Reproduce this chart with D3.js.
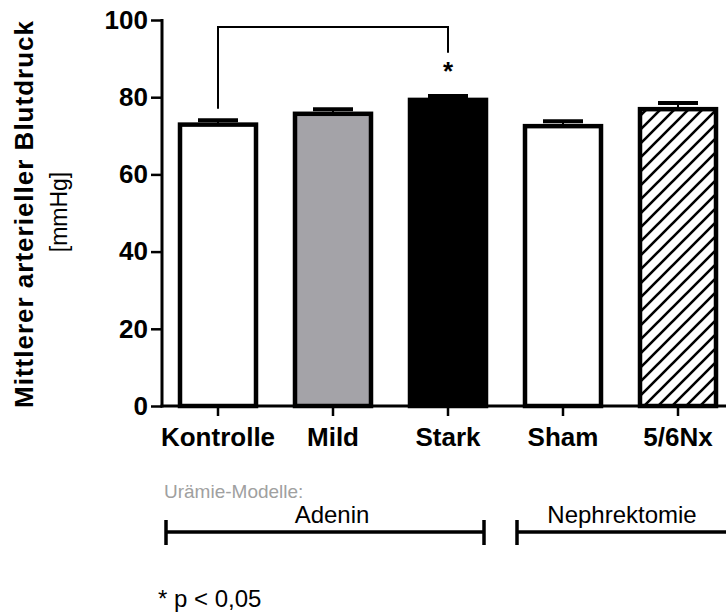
<!DOCTYPE html>
<html>
<head>
<meta charset="utf-8">
<script src="https://cdn.jsdelivr.net/npm/d3@7"></script>
<style>
  body { margin: 0; background: #fff; }
  svg { display: block; font-family: Arial, "Liberation Sans", sans-serif; }
</style>
</head>
<body>
<div id="root"></div>
<script>
// data
const categories = ["Kontrolle", "Mild", "Stark", "Sham", "5/6Nx"];
const means = [72.9, 75.7, 79.3, 72.5, 76.9];
const sems = [1.1, 1.2, 1.0, 1.3, 1.6];
const fills = ["#fff", "#a4a3a8", "#000", "#fff", "url(#hatch)"];
const yTicks = [0, 20, 40, 60, 80, 100];
const groups = [
    {label: "Adenin", from: 0, to: 2},
    {label: "Nephrektomie", from: 3, to: 4}
];

const WIDTH = 726;
const HEIGHT = 613;
const BAR_W = 76;

const svg = d3.select("#root")
    .append("svg")
    .attr("width", WIDTH)
    .attr("height", HEIGHT);

const defs = svg.append("defs");
const hatch = defs.append("pattern")
    .attr("id", "hatch")
    .attr("patternUnits", "userSpaceOnUse")
    .attr("width", 14)
    .attr("height", 14);
hatch.append("rect").attr("width", 14).attr("height", 14).attr("fill", "#fff");
hatch.append("path")
    .attr("d", "M0,14L14,0M-4,4L4,-4M10,18L18,10")
    .attr("stroke", "#000")
    .attr("stroke-width", 2.6);

const xScale = d3.scaleBand()
    .domain(categories)
    .range([160.5, 735.5]);

const yScale = d3.scaleLinear()
    .domain([0, 100])
    .range([406, 20]);

const cx = c => xScale(c) + xScale.bandwidth() / 2;

// bars
svg.selectAll(".bar")
    .data(categories)
    .enter()
    .append("rect")
    .attr("class", "bar")
    .attr("x", c => cx(c) - BAR_W / 2)
    .attr("y", (c, i) => yScale(means[i]))
    .attr("width", BAR_W)
    .attr("height", (c, i) => yScale(0) - yScale(means[i]))
    .attr("fill", (c, i) => fills[i])
    .attr("stroke", "#000")
    .attr("stroke-width", 4.5);

// error bars (upper only)
const err = svg.selectAll(".err")
    .data(categories)
    .enter()
    .append("g")
    .attr("class", "err");
err.append("line")
    .attr("x1", c => cx(c))
    .attr("x2", c => cx(c))
    .attr("y1", (c, i) => yScale(means[i]))
    .attr("y2", (c, i) => yScale(means[i] + sems[i]))
    .attr("stroke", "#000")
    .attr("stroke-width", 2);
err.append("line")
    .attr("x1", c => cx(c) - 20)
    .attr("x2", c => cx(c) + 20)
    .attr("y1", (c, i) => yScale(means[i] + sems[i]))
    .attr("y2", (c, i) => yScale(means[i] + sems[i]))
    .attr("stroke", "#000")
    .attr("stroke-width", 4);

// axes
const yAxis = d3.axisLeft(yScale)
    .tickValues(yTicks)
    .tickSize(11)
    .tickPadding(3);
const yg = svg.append("g")
    .attr("transform", `translate(${xScale.range()[0] + 1.5},0)`)
    .call(yAxis);
yg.select(".domain").attr("stroke-width", 3).attr("d", `M0,${yScale(0) + 1.5}V${yScale(100) - 1}`);
yg.selectAll(".tick line").attr("stroke-width", 2.5);
yg.selectAll(".tick text")
    .attr("font-size", 26)
    .attr("font-weight", "bold")
    .attr("font-family", "Arial, 'Liberation Sans', sans-serif")
    .attr("fill", "#000");

const xAxis = d3.axisBottom(xScale)
    .tickSize(10)
    .tickPadding(12);
const xg = svg.append("g")
    .attr("transform", `translate(0,${yScale(0)})`)
    .call(xAxis);
xg.select(".domain").attr("stroke-width", 3).attr("d", `M${xScale.range()[0]},0H${WIDTH}`);
xg.selectAll(".tick line").attr("stroke-width", 2.5);
xg.selectAll(".tick text")
    .attr("font-size", 26)
    .attr("font-weight", "bold")
    .attr("font-family", "Arial, 'Liberation Sans', sans-serif")
    .attr("fill", "#000");

// y axis titles
svg.append("text")
    .attr("transform", "translate(33,214) rotate(-90)")
    .attr("text-anchor", "middle")
    .attr("font-size", 26)
    .attr("font-weight", "bold")
    .attr("letter-spacing", 1)
    .text("Mittlerer arterieller Blutdruck");
svg.append("text")
    .attr("transform", "translate(67,212) rotate(-90)")
    .attr("text-anchor", "middle")
    .attr("font-size", 23)
    .text("[mmHg]");

// significance bracket
const bracket = d3.path();
bracket.moveTo(cx("Kontrolle"), yScale(77));
bracket.lineTo(cx("Kontrolle"), yScale(98.2));
bracket.lineTo(cx("Stark"), yScale(98.2));
bracket.lineTo(cx("Stark"), yScale(91.5));
svg.append("path")
    .attr("d", bracket.toString())
    .attr("fill", "none")
    .attr("stroke", "#000")
    .attr("stroke-width", 2);
svg.append("text")
    .attr("x", cx("Stark"))
    .attr("y", yScale(84.5))
    .attr("text-anchor", "middle")
    .attr("font-size", 26)
    .attr("font-weight", "bold")
    .text("*");

// group annotation
svg.append("text")
    .attr("x", 164)
    .attr("y", 498)
    .attr("font-size", 19)
    .attr("fill", "#a0a0a0")
    .text("Urämie-Modelle:");

const LINE_Y = 532;
const gSel = svg.selectAll(".grp")
    .data(groups)
    .enter()
    .append("g")
    .attr("class", "grp");
const gx0 = g => g.from === 0 ? 166 : 517;
const gx1 = g => g.to === categories.length - 1 ? WIDTH : 484;
gSel.append("line")
    .attr("x1", gx0).attr("x2", gx1)
    .attr("y1", LINE_Y).attr("y2", LINE_Y)
    .attr("stroke", "#000").attr("stroke-width", 3.5);
gSel.append("line")
    .attr("x1", gx0).attr("x2", gx0)
    .attr("y1", LINE_Y - 12).attr("y2", LINE_Y + 13)
    .attr("stroke", "#000").attr("stroke-width", 3.5);
gSel.filter(g => g.to !== categories.length - 1)
    .append("line")
    .attr("x1", gx1).attr("x2", gx1)
    .attr("y1", LINE_Y - 12).attr("y2", LINE_Y + 13)
    .attr("stroke", "#000").attr("stroke-width", 3.5);
gSel.append("text")
    .attr("x", g => g.from === 0 ? 332 : 622)
    .attr("y", LINE_Y - 9)
    .attr("text-anchor", "middle")
    .attr("font-size", 24)
    .text(g => g.label);

svg.append("text")
    .attr("x", 158)
    .attr("y", 607)
    .attr("font-size", 24)
    .text("* p < 0,05");
</script>
</body>
</html>
